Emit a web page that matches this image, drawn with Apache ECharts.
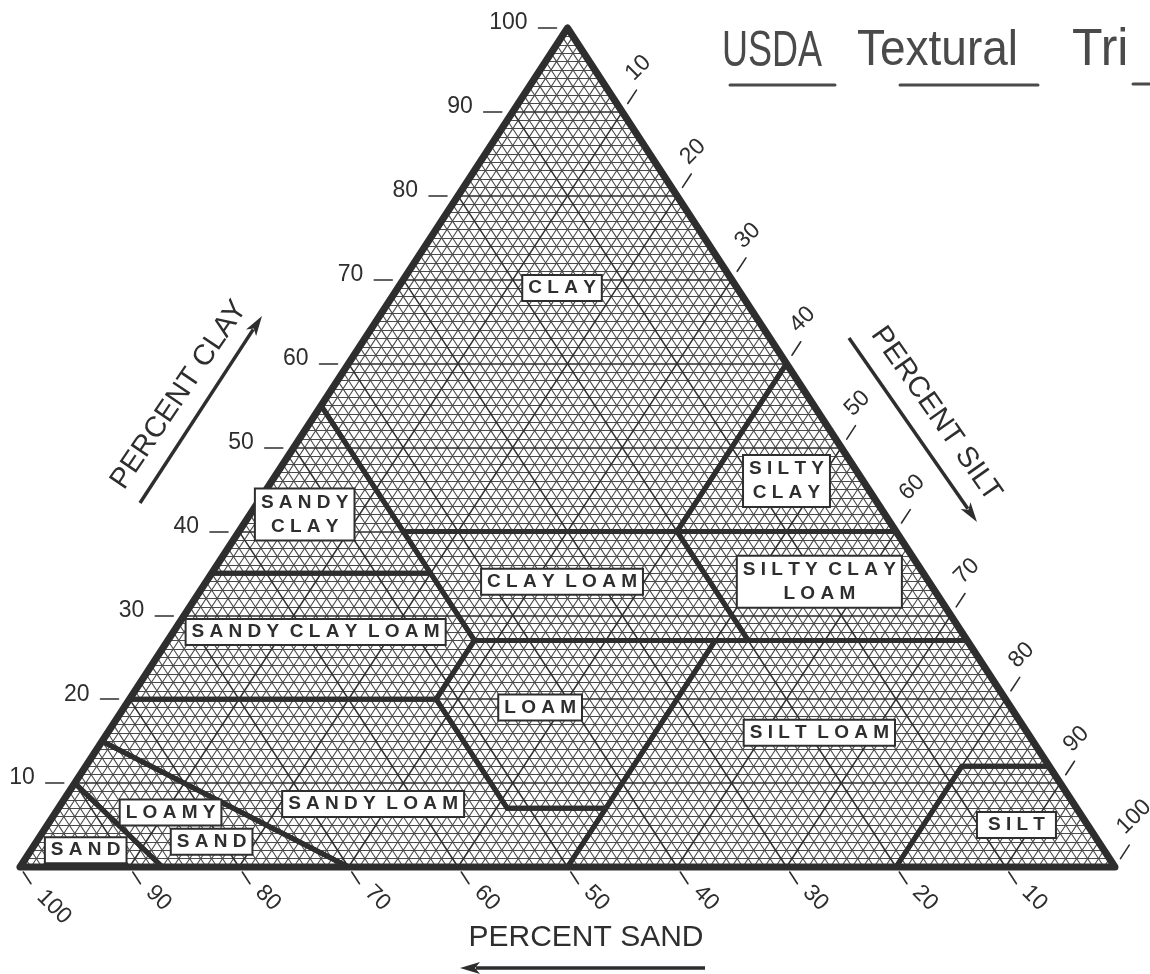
<!DOCTYPE html>
<html lang="en">
<head>
<meta charset="UTF-8" />
<title>USDA textural triangle</title>
<script src="https://cdn.jsdelivr.net/npm/echarts@6/dist/echarts.min.js"></script>
<style>
  html, body { margin: 0; padding: 0; background: #fff; }
  #chart { width: 1150px; height: 974px; }
</style>
</head>
<body>
<div id="chart"></div>
<script>
// all ternary points are [sand, silt, clay] in percent
const clayTicks = [10, 20, 30, 40, 50, 60, 70, 80, 90, 100];
const siltTicks = [10, 20, 30, 40, 50, 60, 70, 80, 90, 100];
const sandTicks = [100, 90, 80, 70, 60, 50, 40, 30, 20, 10];

const classBorders = [
  [[45, 15, 40], [20, 40, 40], [0, 40, 60], [0, 0, 100], [45, 0, 55]],            // clay
  [[65, 0, 35], [45, 20, 35], [45, 0, 55]],                                       // sandy clay
  [[20, 40, 40], [0, 60, 40], [0, 40, 60]],                                       // silty clay
  [[20, 53, 27], [0, 73, 27], [0, 60, 40], [20, 40, 40]],                         // silty clay loam
  [[45, 28, 27], [20, 53, 27], [20, 40, 40], [45, 15, 40]],                       // clay loam
  [[80, 0, 20], [52, 28, 20], [45, 28, 27], [45, 20, 35], [65, 0, 35]],           // sandy clay loam
  [[52, 41, 7], [43, 50, 7], [23, 50, 27], [45, 28, 27], [52, 28, 20]],           // loam
  [[50, 50, 0], [20, 80, 0], [8, 80, 12], [0, 88, 12], [0, 73, 27], [23, 50, 27], [43, 50, 7]], // silt loam
  [[20, 80, 0], [0, 100, 0], [0, 88, 12], [8, 80, 12]],                           // silt
  [[85, 0, 15], [70, 30, 0], [50, 50, 0], [43, 50, 7], [52, 41, 7], [52, 28, 20], [80, 0, 20]], // sandy loam
  [[90, 0, 10], [87, 13, 0], [70, 30, 0], [85, 0, 15]],                           // loamy sand
  [[100, 0, 0], [87, 13, 0], [90, 0, 10]]                                         // sand
];

const classNames = ['CLAY', 'SILTY\nCLAY', 'SANDY\nCLAY', 'CLAY LOAM', 'SILTY CLAY\nLOAM',
  'SANDY CLAY LOAM', 'LOAM', 'SILT LOAM', 'SANDY LOAM', 'LOAMY', 'SAND', 'SAND', 'SILT'];
const classCenters = [[16, 15, 69], [7, 47, 46], [53, 5, 42], [33.5, 32.5, 34], [10, 56, 34],
  [59, 13, 28], [43, 38, 19], [19, 65, 16], [64, 28.5, 7.5], [83, 10.5, 6.5], [81, 16, 3], [93, 5, 2], [6.5, 88.5, 5]];

const G = { left: 20, right: 35, top: 28, bottom: 107 };
const PX = (1150 - G.left - G.right) / 100;
const PY = (974 - G.top - G.bottom) / 100;
const INK = '#2e2e2e';

function tern(sand, silt, clay) { return [silt + clay / 2, clay]; }

function mesh(step, skip) {
  const out = [];
  for (let v = step; v < 100; v += step) {
    if (skip && v % skip === 0) continue;
    out.push({ coords: [tern(100 - v, 0, v), tern(0, 100 - v, v)] });
    out.push({ coords: [tern(100 - v, v, 0), tern(0, v, 100 - v)] });
    out.push({ coords: [tern(v, 100 - v, 0), tern(v, 0, 100 - v)] });
  }
  return out;
}

const spaced = s => s.split('\n')
  .map(line => line.split(' ').map(w => w.split('').join(' ')).join('  ')).join('\n');

function lineSeries(data, width, color, polyline) {
  return {
    type: 'lines', coordinateSystem: 'cartesian2d', polyline: !!polyline, clip: false,
    silent: true, data: data, lineStyle: { color: color, width: width, opacity: 1, join: 'round', cap: 'round' }
  };
}

const borders = classBorders.map(p => ({ coords: p.concat([p[0]]).map(t => tern(...t)) }));
const outline = [{ coords: [[0, 0], [100, 0], [50, 100], [0, 0]] }];

const leftTicks = clayTicks.map(c => ({ coords: [[c / 2 - 29 / PX, c], [c / 2 - 11 / PX, c]] }));
const rightTicks = siltTicks.map(t => ({ coords: [tern(-1.0, t, 101 - t), tern(-2.6, t, 102.6 - t)] }));
const bottomTicks = sandTicks.map(s => ({ coords: [tern(s, 100.6 - s, -0.6), tern(s, 102 - s, -2)] }));

const tickFont = { show: true, color: INK, opacity: 1, fontFamily: 'Liberation Sans', fontSize: 23, formatter: '{b}' };

function arrow(x1, y1, x2, y2) {
  const a = Math.atan2(y2 - y1, x2 - x1), L = 20, W = 6;
  const dx = Math.cos(a), dy = Math.sin(a);
  const bx = x2 - L * dx, by = y2 - L * dy;
  return [
    { type: 'line', shape: { x1: x1, y1: y1, x2: bx + 4 * dx, y2: by + 4 * dy }, style: { stroke: INK, lineWidth: 3.5 } },
    { type: 'polygon', shape: { points: [[x2, y2], [bx - W * dy, by + W * dx], [bx + 5 * dx, by + 5 * dy], [bx + W * dy, by - W * dx]] },
      style: { fill: INK } }
  ];
}

function txt(text, x, y, size, rot, color, sy) {
  return {
    type: 'text', x: x, y: y, rotation: rot || 0, scaleY: sy || 1,
    style: { text: text, fill: color || INK, font: size + 'px "Liberation Sans"',
      align: 'center', verticalAlign: 'middle', textAlign: 'center', textVerticalAlign: 'middle' }
  };
}
function word(text, x, y, size, sy) {
  const t = txt(text, x, y, size, 0, '#4a4a4a', sy);
  t.style.align = t.style.textAlign = 'left';
  return t;
}
function ul(x1, x2, y) {
  return { type: 'line', shape: { x1: x1, y1: y, x2: x2, y2: y }, style: { stroke: '#4a4a4a', lineWidth: 3, lineCap: 'round' } };
}

function labelSeries(data, label, z) {
  return {
    type: 'scatter', symbolSize: 1, clip: false, silent: true, z: z,
    itemStyle: { color: 'transparent', opacity: 1 },
    data: data, label: label
  };
}

const chart = echarts.init(document.getElementById('chart'));
chart.setOption({
  animation: false,
  backgroundColor: '#fff',
  grid: G,
  xAxis: { type: 'value', min: 0, max: 100, show: false },
  yAxis: { type: 'value', min: 0, max: 100, show: false },
  graphic: [
    word('USDA', 722, 52, 36, 1.4), ul(730, 835, 85),
    word('Textural', 857, 51, 46, 1.08), ul(900, 1038, 85),
    word('Tri', 1072, 51, 50, 1.05), ul(1133, 1150, 84),
    txt('PERCENT CLAY', 179, 395, 29, 56 * Math.PI / 180),
    txt('PERCENT SILT', 936, 414, 29, -55 * Math.PI / 180),
    txt('PERCENT SAND', 586, 938, 30, 0)
  ].concat(arrow(140, 503, 262, 316), arrow(849, 338, 977, 522), arrow(705, 968, 460, 968)),
  series: [
    lineSeries(mesh(1, 10), 1.1, '#4a4a4a'),
    lineSeries(mesh(10), 1.5, '#2e2e2e'),
    lineSeries(borders, 5, INK, true),
    lineSeries(outline, 7, INK, true),
    lineSeries(leftTicks, 1.6, INK),
    lineSeries(rightTicks, 1.6, INK),
    lineSeries(bottomTicks, 1.6, INK),
    labelSeries(clayTicks.map(c => ({ name: String(c), value: [c / 2 - 40 / PX, c + 5 / PY] })),
      Object.assign({ position: 'inside', align: 'right', verticalAlign: 'middle' }, tickFont), 5),
    labelSeries(siltTicks.map(t => {
      const o = t === 100 ? [19, 50] : [16, 44];
      return { name: String(t), value: [50 + t / 2 + o[0] / PX, 100 - t + o[1] / PY] };
    }), Object.assign({ position: 'inside', rotate: 45 }, tickFont), 5),
    labelSeries(sandTicks.map(s => {
      const o = s === 100 ? [34, 40] : [29, 31];
      return { name: String(s), value: [100 - s + o[0] / PX, -o[1] / PY] };
    }), Object.assign({ position: 'inside', rotate: -45 }, tickFont), 5),
    labelSeries(classNames.map((n, i) => {
      const item = { name: n, value: tern(...classCenters[i]) };
      if (n.indexOf('\n') >= 0) item.label = { lineHeight: 24 };
      if (n === 'SILT') item.label = { padding: [1, 10] };
      return item;
    }), {
      show: true, position: 'inside', formatter: p => spaced(p.name), opacity: 1,
      color: INK, fontFamily: 'Liberation Sans', fontWeight: 'bold', fontSize: 19, lineHeight: 22,
      align: 'center', backgroundColor: '#fff', borderColor: INK, borderWidth: 2, padding: [1, 5]
    }, 10)
  ]
});
</script>
</body>
</html>
